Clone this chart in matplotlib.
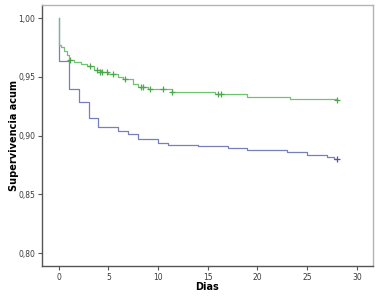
import matplotlib
matplotlib.use("Agg")
import matplotlib.pyplot as plt
from matplotlib.ticker import FuncFormatter

# Green group (Kaplan-Meier steps)
green_t = [0, 0, 0.2, 0.5, 0.8, 1.0, 1.5, 2.2, 2.8, 3.6, 4.3, 5.0, 6.0, 6.5, 7.5, 8.0, 9.0, 11.4, 15.7, 19.0, 23.3, 28.0]
green_s = [1.0, 0.9775, 0.9753, 0.9724, 0.9685, 0.9648, 0.9628, 0.9611, 0.9597, 0.9563, 0.954, 0.9529, 0.9498, 0.9483, 0.9441, 0.9418, 0.9398, 0.9375, 0.9356, 0.9333, 0.9312, 0.9300]
green_cens_t = [1.1, 3.2, 3.9, 4.2, 4.4, 4.9, 5.5, 6.7, 8.3, 8.5, 9.2, 10.5, 11.4, 16.0, 16.3, 28.0]
green_cens_s = [0.9648, 0.9597, 0.9563, 0.9540, 0.9540, 0.9540, 0.9529, 0.9483, 0.9418, 0.9418, 0.9398, 0.9398, 0.9375, 0.9356, 0.9356, 0.9300]

# Blue group
blue_t = [0, 0, 1, 2, 3, 4, 6, 7, 8, 10, 11, 14, 17, 19, 23, 25, 27, 27.7, 28.0]
blue_s = [1.0, 0.964, 0.940, 0.929, 0.915, 0.907, 0.904, 0.901, 0.897, 0.8941, 0.8924, 0.891, 0.8894, 0.888, 0.8865, 0.8837, 0.8822, 0.8805, 0.8805]
blue_cens_t = [28.0]
blue_cens_s = [0.8805]

x_ticks = [0, 5, 10, 15, 20, 25, 30]
y_ticks = [0.80, 0.85, 0.90, 0.95, 1.00]

GREEN = "#70c470"
BLUE = "#7880bc"

fig = plt.figure(figsize=(3.79, 3.04), dpi=100)
ax = fig.add_axes([0.1108, 0.125, 0.8726, 0.8586])

ax.step(blue_t, blue_s, where="post", color=BLUE, lw=0.9)
ax.step(green_t, green_s, where="post", color=GREEN, lw=0.9)
ax.plot(green_cens_t, green_cens_s, linestyle="none", marker="+", color="#4aa84a", markersize=4, mew=0.9)
ax.plot(blue_cens_t, blue_cens_s, linestyle="none", marker="+", color="#4a58a4", markersize=4, mew=0.9)

ax.set_xlim(-1.68, 31.6)
ax.set_ylim(0.789, 1.0113)
ax.set_xticks(x_ticks)
ax.set_yticks(y_ticks)
ax.xaxis.set_major_formatter(FuncFormatter(lambda v, p: f"{v:.0f}"))
ax.yaxis.set_major_formatter(FuncFormatter(lambda v, p: f"{v:.2f}".replace(".", ",")))

for s in ["top", "right"]:
    ax.spines[s].set_color("#b4b4b4")
    ax.spines[s].set_linewidth(1.0)
for s in ["left", "bottom"]:
    ax.spines[s].set_color("#555555")
    ax.spines[s].set_linewidth(1.0)

ax.tick_params(axis="both", direction="out", length=3, width=0.8, color="#555555",
               labelsize=5.5, labelcolor="#3a3a3a", pad=2)

ax.set_xlabel("Dias", fontsize=7, fontweight="bold")
ax.set_ylabel("Supervivencia acum", fontsize=7, fontweight="bold")
ax.xaxis.set_label_coords(0.5, -0.062)
ax.yaxis.set_label_coords(-0.07, 0.5)

fig.savefig("out.png", dpi=100)
